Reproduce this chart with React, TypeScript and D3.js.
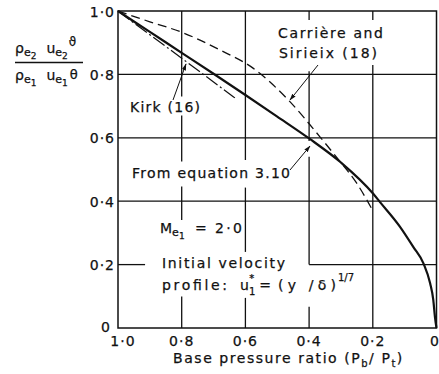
import React from "react";
import * as d3 from "d3";

// ---- data ----
const eqX = [1.0, 0.9, 0.8, 0.7, 0.6, 0.5, 0.4, 0.3, 0.2, 0.178, 0.115, 0.073, 0.041, 0.02, 0.01, 0.005, 0.0];
const eqY = [1.0, 0.934, 0.868, 0.802, 0.735, 0.667, 0.598, 0.522, 0.425, 0.398, 0.32, 0.256, 0.204, 0.141, 0.088, 0.036, 0.0];

const csX = [1.0, 0.9, 0.8, 0.68, 0.575, 0.465, 0.366, 0.303, 0.25, 0.2];
const csY = [1.0, 0.966, 0.933, 0.877, 0.819, 0.719, 0.603, 0.525, 0.456, 0.37];

const kirkX = [1.0, 0.9, 0.8, 0.7, 0.633];
const kirkY = [1.0, 0.925, 0.851, 0.776, 0.726];

const xTicks = [1.0, 0.8, 0.6, 0.4, 0.2, 0.0];
const xTickLabels = ["1·0", "0·8", "0·6", "0·4", "0·2", "0"];
const yTicks = [0.0, 0.2, 0.4, 0.6, 0.8, 1.0];
const yTickLabels = ["0", "0·2", "0·4", "0·6", "0·8", "1·0"];

const W = 439;
const H = 374;
const FONT = "'DejaVu Sans', sans-serif";

export default function App() {
  const x = d3.scaleLinear().domain([1, 0]).range([118, 436.5]);
  const y = d3.scaleLinear().domain([0, 1]).range([328, 11]);

  const line = d3
    .line<[number, number]>()
    .x((d) => x(d[0]))
    .y((d) => y(d[1]))
    .curve(d3.curveMonotoneX);

  const eqPts = eqX.map((v, i) => [v, eqY[i]] as [number, number]);
  const csPts = csX.map((v, i) => [v, csY[i]] as [number, number]);
  const kirkPts = kirkX.map((v, i) => [v, kirkY[i]] as [number, number]);

  // vertical grid segments (y ranges, data units) – gaps leave room for labels
  const vGrid: [number, [number, number][]][] = [
    [0.8, [[1, 0.73], [0.67, 0.525], [0.446, 0.341], [0.099, 0]]],
    [0.6, [[1, 0.53], [0.443, 0.24], [0.095, 0]]],
    [0.4, [[1, 0.972], [0.81, 0.59], [0.54, 0.2], [0.067, 0]]],
    [0.2, [[1, 0.972], [0.83, 0]]],
  ];
  // horizontal grid segments (x ranges, data units)
  const hGrid: [number, [number, number][]][] = [
    [0.8, [[1, 0]]],
    [0.6, [[1, 0]]],
    [0.4, [[1, 0]]],
    [0.2, [[1, 0.915], [0.4, 0]]],
  ];

  const gridStroke = { stroke: "#111", strokeWidth: 1.3, fill: "none" } as const;
  const txt = { fontFamily: FONT, fontSize: 14, fill: "#111", stroke: "#111", strokeWidth: 0.25 } as const;

  return (
    <svg
      width={W}
      height={H}
      style={{ position: "absolute", left: 0, top: 0, background: "#fff" }}
    >
      <defs>
        <marker id="ah" viewBox="0 0 10 10" refX="9" refY="5" markerWidth="7" markerHeight="7" orient="auto">
          <path d="M0,2 L10,5 L0,8 Z" fill="#111" />
        </marker>
      </defs>
      <rect width={W} height={H} fill="#fff" />

      {/* frame */}
      <rect x={x(1)} y={y(1)} width={x(0) - x(1)} height={y(0) - y(1)} {...gridStroke} strokeWidth={1.5} />

      {/* grid */}
      {vGrid.map(([v, segs]) =>
        segs.map(([a, b], i) => (
          <line key={`v${v}-${i}`} x1={x(v)} x2={x(v)} y1={y(a)} y2={y(b)} {...gridStroke} />
        ))
      )}
      {hGrid.map(([v, segs]) =>
        segs.map(([a, b], i) => (
          <line key={`h${v}-${i}`} y1={y(v)} y2={y(v)} x1={x(a)} x2={x(b)} {...gridStroke} />
        ))
      )}

      {/* curves */}
      <path d={line(csPts) || ""} fill="none" stroke="#111" strokeWidth={1.3} strokeDasharray="9,5" />
      <path d={line(kirkPts) || ""} fill="none" stroke="#111" strokeWidth={1.2} strokeDasharray="14,3,2,3" />
      <path d={line(eqPts) || ""} fill="none" stroke="#111" strokeWidth={2.2} />

      {/* y tick labels */}
      {yTicks.map((v, i) =>
        v === 0 ? (
          <text key={`yt${i}`} x={111} y={332} textAnchor="end" {...txt} letterSpacing={1}>
            {yTickLabels[i]}
          </text>
        ) : (
          <text key={`yt${i}`} x={115} y={y(v) + 5.5} textAnchor="end" {...txt} letterSpacing={1}>
            {yTickLabels[i]}
          </text>
        )
      )}

      {/* x tick labels */}
      {xTicks.map((v, i) => (
        <text
          key={`xt${i}`}
          x={v === 1 ? x(v) + 5 : v === 0 ? x(v) - 1.5 : x(v)}
          y={346}
          textAnchor="middle"
          {...txt}
          letterSpacing={1}
        >
          {xTickLabels[i]}
        </text>
      ))}

      {/* x axis title */}
      <text x={173} y={363} {...txt} letterSpacing={1.55}>
        Base pressure ratio (P
        <tspan fontSize={10} dy={4}>b</tspan>
        <tspan dy={-4}>/ P</tspan>
        <tspan fontSize={10} dy={4}>t</tspan>
        <tspan dy={-4}>)</tspan>
      </text>

      {/* y axis label: fraction */}
      <text x={15} y={53} {...txt}>
        ρ<tspan fontSize={11} dy={3}>e</tspan>
        <tspan fontSize={9} dy={3}>2</tspan>
        <tspan dx={10} dy={-6}>u</tspan>
        <tspan fontSize={11} dy={3}>e</tspan>
        <tspan fontSize={9} dy={3}>2</tspan>
        <tspan fontSize={12} dx={1} dy={-13}>ϑ</tspan>
      </text>
      <line x1={15} x2={83} y1={62.5} y2={62.5} stroke="#111" strokeWidth={1.3} />
      <text x={15} y={80} {...txt}>
        ρ<tspan fontSize={11} dy={3}>e</tspan>
        <tspan fontSize={9} dy={3}>1</tspan>
        <tspan dx={10} dy={-6}>u</tspan>
        <tspan fontSize={11} dy={3}>e</tspan>
        <tspan fontSize={9} dy={3}>1</tspan>
        <tspan fontSize={13} dx={2} dy={-7}>θ</tspan>
      </text>

      {/* curve labels */}
      <text x={278} y={38} {...txt} textLength={105} lengthAdjust="spacing">Carrière and</text>
      <text x={279} y={58} {...txt} textLength={98} lengthAdjust="spacing">Sirieix (18)</text>
      <line x1={318} y1={65} x2={290} y2={100} stroke="#111" strokeWidth={1} markerEnd="url(#ah)" />

      <text x={130} y={112} {...txt} textLength={70} lengthAdjust="spacing">Kirk (16)</text>
      <line x1={173} y1={100} x2={186} y2={64} stroke="#111" strokeWidth={1} markerEnd="url(#ah)" />

      <text x={132} y={178} {...txt} textLength={158} lengthAdjust="spacing">From equation 3.10</text>
      <line x1={290} y1={170} x2={310} y2={146} stroke="#111" strokeWidth={1} markerEnd="url(#ah)" />

      {/* parameters */}
      <text x={160} y={233} {...txt}>
        M<tspan fontSize={11} dy={3}>e</tspan>
        <tspan fontSize={9} dy={3}>1</tspan>
      </text>
      <text x={195} y={233} {...txt}>=</text>
      <text x={215} y={233} {...txt} textLength={27} lengthAdjust="spacing">2·0</text>

      <text x={162} y={268} {...txt} textLength={123} lengthAdjust="spacing">Initial velocity</text>
      <text x={162} y={290} {...txt} textLength={65} lengthAdjust="spacing">profile:</text>
      <text x={240} y={290} {...txt}>
        u<tspan fontSize={10} dy={4.5}>1</tspan>
        <tspan fontSize={10} dx={-6} dy={-13}>*</tspan>
        <tspan fontSize={14} dx={5} dy={8.5}>=</tspan>
      </text>
      <text x={278} y={290} {...txt} textLength={58} lengthAdjust="spacing">(y /δ)</text>
      <text x={338} y={281} {...txt} fontSize={10}>1/7</text>
    </svg>
  );
}
